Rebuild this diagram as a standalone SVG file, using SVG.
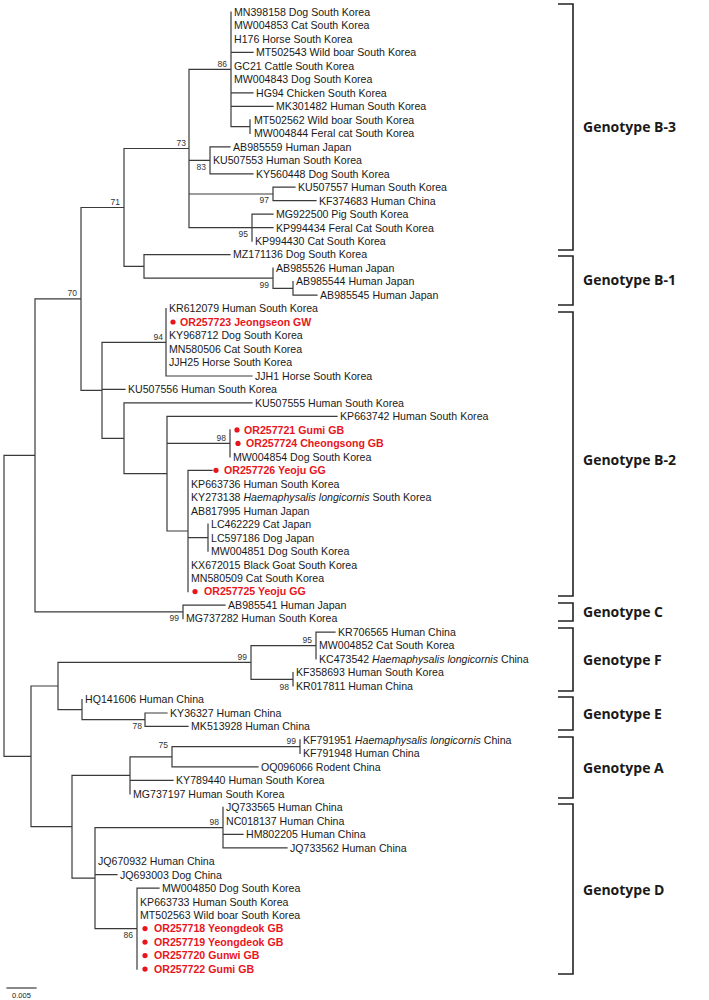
<svg xmlns="http://www.w3.org/2000/svg" width="709" height="1000" viewBox="0 0 709 1000">
<style>
.br{fill:none;stroke:#3a3a3a;stroke-width:1.2;stroke-linecap:square}
.lf{font-family:"Liberation Sans",Arial,sans-serif;font-size:10.6px;fill:#1a1a1a}
.rd{font-family:"Liberation Sans",Arial,sans-serif;font-size:10.6px;font-weight:bold;fill:#e8161c}
.dot{fill:#e8161c}
.bs{font-family:"Liberation Sans",Arial,sans-serif;font-size:8.5px;fill:#333;text-anchor:end}
.bk{fill:none;stroke:#222;stroke-width:1.6}
.gt{font-family:"Open Sans","Liberation Sans",sans-serif;font-size:14px;font-weight:bold;fill:#1a1a1a}
i,.it{font-style:italic}
</style>
<rect width="709" height="1000" fill="#fff"/>
<g id="connectors">
<path class="br" d="M4,455.4V756.4M4,455.4H35M4,756.4H31
M35,298.9V611.9M35,298.9H81M35,611.9H183
M81,207.5V390.3M81,207.5H124M81,390.3H102
M124,148.5V266.4M124,148.5H189M124,266.4H144
M189,69.3V227.7M189,69.3H231M189,160.3H210M189,194H273M189,227.7H252
M231,12V126.6M231,52.4H253M231,92.9H253M231,106.4H273M231,126.6H250
M250,119.8V133.3
M210,146.8V173.8M210,146.8H230M210,173.8H253
M273,187.2V200.7M273,187.2H295M273,200.7H316
M252,214.2V241.2M252,214.2H273M252,227.7H273
M144,254.6V278.2M144,254.6H230M144,278.2H273
M273,268.1V288.4M273,288.4H293
M293,281.6V295.1M293,295.1H317
M102,342.3V438.3M102,342.3H166M102,389.4H125M102,438.3H124
M166,308.6V376M166,376H252
M124,402.9V473.7M124,402.9H252M124,473.7H167
M167,416.4V531M167,416.4H337M167,443.4H230M167,531H188
M230,429.9V456.8
M188,470.3V591.6M188,470.3H212M188,537.7H208
M208,524.2V551.2
M183,605.1V618.6M183,605.1H225
M31,686V826.7M31,686H58M31,826.7H72
M58,662.4V709.6M58,662.4H251M58,709.6H82
M251,645.6V679.3M251,645.6H316M251,679.3H293
M316,632.1V659M316,632.1H335
M293,672.5V686
M82,699.5V719.7M82,719.7H145
M145,713V726.4M145,713H167M145,726.4H188
M72,775.3V878.1M72,775.3H130M72,878.1H95
M130,756.8V793.8M130,756.8H172M130,780.4H173
M172,746.7V766.9M172,746.7H300M172,766.9H258
M300,739.9V753.4
M95,827.6V928.6M95,827.6H223M95,874.7H117M95,928.6H137
M223,807.3V847.8M223,834.3H243M223,847.8H287
M137,888.2V969.1M137,888.2H159"/>
</g>
<g id="bootstrap">
<text class="bs" x="227" y="67">86</text>
<text class="bs" x="186" y="146">73</text>
<text class="bs" x="206" y="170">83</text>
<text class="bs" x="269" y="203">97</text>
<text class="bs" x="248" y="237">95</text>
<text class="bs" x="120" y="205">71</text>
<text class="bs" x="77" y="296">70</text>
<text class="bs" x="269" y="288">99</text>
<text class="bs" x="163" y="340">94</text>
<text class="bs" x="226" y="441">98</text>
<text class="bs" x="179" y="621">99</text>
<text class="bs" x="247" y="660">99</text>
<text class="bs" x="312" y="643">95</text>
<text class="bs" x="289" y="690">98</text>
<text class="bs" x="142" y="729">78</text>
<text class="bs" x="296" y="744">99</text>
<text class="bs" x="168" y="748">75</text>
<text class="bs" x="219" y="825">98</text>
<text class="bs" x="133" y="938">86</text>
</g>
<g id="leaves">
<g id="leaf-MN398158"><text class="lf" x="234" y="15.8">MN398158 Dog South Korea</text></g>
<g id="leaf-MW004853"><text class="lf" x="234" y="29.3">MW004853 Cat South Korea</text></g>
<g id="leaf-H176"><text class="lf" x="234" y="42.8">H176 Horse South Korea</text></g>
<g id="leaf-MT502543"><text class="lf" x="256" y="56.2">MT502543 Wild boar South Korea</text></g>
<g id="leaf-GC21"><text class="lf" x="234" y="69.7">GC21 Cattle South Korea</text></g>
<g id="leaf-MW004843"><text class="lf" x="234" y="83.2">MW004843 Dog South Korea</text></g>
<g id="leaf-HG94"><text class="lf" x="256" y="96.7">HG94 Chicken South Korea</text></g>
<g id="leaf-MK301482"><text class="lf" x="276" y="110.2">MK301482 Human South Korea</text></g>
<g id="leaf-MT502562"><text class="lf" x="254" y="123.6">MT502562 Wild boar South Korea</text></g>
<g id="leaf-MW004844"><text class="lf" x="254" y="137.1">MW004844 Feral cat South Korea</text></g>
<g id="leaf-AB985559"><text class="lf" x="233" y="150.6">AB985559 Human Japan</text></g>
<g id="leaf-KU507553"><text class="lf" x="213" y="164.1">KU507553 Human South Korea</text></g>
<g id="leaf-KY560448"><text class="lf" x="256" y="177.6">KY560448 Dog South Korea</text></g>
<g id="leaf-KU507557"><text class="lf" x="298" y="191">KU507557 Human South Korea</text></g>
<g id="leaf-KF374683"><text class="lf" x="319" y="204.5">KF374683 Human China</text></g>
<g id="leaf-MG922500"><text class="lf" x="276" y="218">MG922500 Pig South Korea</text></g>
<g id="leaf-KP994434"><text class="lf" x="276" y="231.5">KP994434 Feral Cat South Korea</text></g>
<g id="leaf-KP994430"><text class="lf" x="255" y="245">KP994430 Cat South Korea</text></g>
<g id="leaf-MZ171136"><text class="lf" x="233" y="258.4">MZ171136 Dog South Korea</text></g>
<g id="leaf-AB985526"><text class="lf" x="276" y="271.9">AB985526 Human Japan</text></g>
<g id="leaf-AB985544"><text class="lf" x="296" y="285.4">AB985544 Human Japan</text></g>
<g id="leaf-AB985545"><text class="lf" x="320" y="298.9">AB985545 Human Japan</text></g>
<g id="leaf-KR612079"><text class="lf" x="169" y="312.4">KR612079 Human South Korea</text></g>
<g id="leaf-OR257723"><circle class="dot" cx="173" cy="322" r="2.6"/><text class="rd" x="180" y="325.8">OR257723 Jeongseon GW</text></g>
<g id="leaf-KY968712"><text class="lf" x="169" y="339.3">KY968712 Dog South Korea</text></g>
<g id="leaf-MN580506"><text class="lf" x="169" y="352.8">MN580506 Cat South Korea</text></g>
<g id="leaf-JJH25"><text class="lf" x="169" y="366.3">JJH25 Horse South Korea</text></g>
<g id="leaf-JJH1"><text class="lf" x="255" y="379.8">JJH1 Horse South Korea</text></g>
<g id="leaf-KU507556"><text class="lf" x="128" y="393.2">KU507556 Human South Korea</text></g>
<g id="leaf-KU507555"><text class="lf" x="255" y="406.7">KU507555 Human South Korea</text></g>
<g id="leaf-KP663742"><text class="lf" x="340" y="420.2">KP663742 Human South Korea</text></g>
<g id="leaf-OR257721"><circle class="dot" cx="237" cy="429.9" r="2.6"/><text class="rd" x="244" y="433.7">OR257721 Gumi GB</text></g>
<g id="leaf-OR257724"><circle class="dot" cx="238" cy="443.4" r="2.6"/><text class="rd" x="246" y="447.2">OR257724 Cheongsong GB</text></g>
<g id="leaf-MW004854"><text class="lf" x="233" y="460.6">MW004854 Dog South Korea</text></g>
<g id="leaf-OR257726"><circle class="dot" cx="216" cy="470.3" r="2.6"/><text class="rd" x="224" y="474.1">OR257726 Yeoju GG</text></g>
<g id="leaf-KP663736"><text class="lf" x="191" y="487.6">KP663736 Human South Korea</text></g>
<g id="leaf-KY273138"><text class="lf" x="191" y="501.1">KY273138 <tspan class="it">Haemaphysalis longicornis</tspan> South Korea</text></g>
<g id="leaf-AB817995"><text class="lf" x="191" y="514.6">AB817995 Human Japan</text></g>
<g id="leaf-LC462229"><text class="lf" x="211" y="528">LC462229 Cat Japan</text></g>
<g id="leaf-LC597186"><text class="lf" x="211" y="541.5">LC597186 Dog Japan</text></g>
<g id="leaf-MW004851"><text class="lf" x="211" y="555">MW004851 Dog South Korea</text></g>
<g id="leaf-KX672015"><text class="lf" x="191" y="568.5">KX672015 Black Goat South Korea</text></g>
<g id="leaf-MN580509"><text class="lf" x="191" y="582">MN580509 Cat South Korea</text></g>
<g id="leaf-OR257725"><circle class="dot" cx="195" cy="591.6" r="2.6"/><text class="rd" x="204" y="595.4">OR257725 Yeoju GG</text></g>
<g id="leaf-AB985541"><text class="lf" x="228" y="608.9">AB985541 Human Japan</text></g>
<g id="leaf-MG737282"><text class="lf" x="186" y="622.4">MG737282 Human South Korea</text></g>
<g id="leaf-KR706565"><text class="lf" x="338" y="635.9">KR706565 Human China</text></g>
<g id="leaf-MW004852"><text class="lf" x="319" y="649.4">MW004852 Cat South Korea</text></g>
<g id="leaf-KC473542"><text class="lf" x="319" y="662.8">KC473542 <tspan class="it">Haemaphysalis longicornis</tspan> China</text></g>
<g id="leaf-KF358693"><text class="lf" x="296" y="676.3">KF358693 Human South Korea</text></g>
<g id="leaf-KR017811"><text class="lf" x="296" y="689.8">KR017811 Human China</text></g>
<g id="leaf-HQ141606"><text class="lf" x="85" y="703.3">HQ141606 Human China</text></g>
<g id="leaf-KY36327"><text class="lf" x="170" y="716.8">KY36327 Human China</text></g>
<g id="leaf-MK513928"><text class="lf" x="191" y="730.2">MK513928 Human China</text></g>
<g id="leaf-KF791951"><text class="lf" x="303" y="743.7">KF791951 <tspan class="it">Haemaphysalis longicornis</tspan> China</text></g>
<g id="leaf-KF791948"><text class="lf" x="303" y="757.2">KF791948 Human China</text></g>
<g id="leaf-OQ096066"><text class="lf" x="261" y="770.7">OQ096066 Rodent China</text></g>
<g id="leaf-KY789440"><text class="lf" x="176" y="784.2">KY789440 Human South Korea</text></g>
<g id="leaf-MG737197"><text class="lf" x="133" y="797.6">MG737197 Human South Korea</text></g>
<g id="leaf-JQ733565"><text class="lf" x="226" y="811.1">JQ733565 Human China</text></g>
<g id="leaf-NC018137"><text class="lf" x="226" y="824.6">NC018137 Human China</text></g>
<g id="leaf-HM802205"><text class="lf" x="246" y="838.1">HM802205 Human China</text></g>
<g id="leaf-JQ733562"><text class="lf" x="290" y="851.6">JQ733562 Human China</text></g>
<g id="leaf-JQ670932"><text class="lf" x="98" y="865">JQ670932 Human China</text></g>
<g id="leaf-JQ693003"><text class="lf" x="120" y="878.5">JQ693003 Dog China</text></g>
<g id="leaf-MW004850"><text class="lf" x="162" y="892">MW004850 Dog South Korea</text></g>
<g id="leaf-KP663733"><text class="lf" x="140" y="905.5">KP663733 Human South Korea</text></g>
<g id="leaf-MT502563"><text class="lf" x="140" y="919">MT502563 Wild boar South Korea</text></g>
<g id="leaf-OR257718"><circle class="dot" cx="145" cy="928.6" r="2.6"/><text class="rd" x="154" y="932.4">OR257718 Yeongdeok GB</text></g>
<g id="leaf-OR257719"><circle class="dot" cx="145" cy="942.1" r="2.6"/><text class="rd" x="154" y="945.9">OR257719 Yeongdeok GB</text></g>
<g id="leaf-OR257720"><circle class="dot" cx="145" cy="955.6" r="2.6"/><text class="rd" x="154" y="959.4">OR257720 Gunwi GB</text></g>
<g id="leaf-OR257722"><circle class="dot" cx="145" cy="969.1" r="2.6"/><text class="rd" x="154" y="972.9">OR257722 Gumi GB</text></g>
</g>
<g id="genotypes">
<g id="genotype-B3"><path class="bk" d="M558,4H573V250H558"/><text class="gt" x="583" y="132">Genotype B-3</text></g>
<g id="genotype-B1"><path class="bk" d="M558,256H573V305H558"/><text class="gt" x="583" y="285">Genotype B-1</text></g>
<g id="genotype-B2"><path class="bk" d="M558,312H573V596H558"/><text class="gt" x="583" y="465">Genotype B-2</text></g>
<g id="genotype-C"><path class="bk" d="M558,603H573V621H558"/><text class="gt" x="583" y="617">Genotype C</text></g>
<g id="genotype-F"><path class="bk" d="M558,628H573V691H558"/><text class="gt" x="583" y="665">Genotype F</text></g>
<g id="genotype-E"><path class="bk" d="M558,697H573V730H558"/><text class="gt" x="583" y="719">Genotype E</text></g>
<g id="genotype-A"><path class="bk" d="M558,737H573V798H558"/><text class="gt" x="583" y="773">Genotype A</text></g>
<g id="genotype-D"><path class="bk" d="M558,804H573V974H558"/><text class="gt" x="583" y="895">Genotype D</text></g>
</g>
<g id="scale">
<path class="br" d="M7,988H36"/>
<text class="lf" x="21.5" y="998" text-anchor="middle" style="font-size:7.5px">0.005</text>
</g>
</svg>
